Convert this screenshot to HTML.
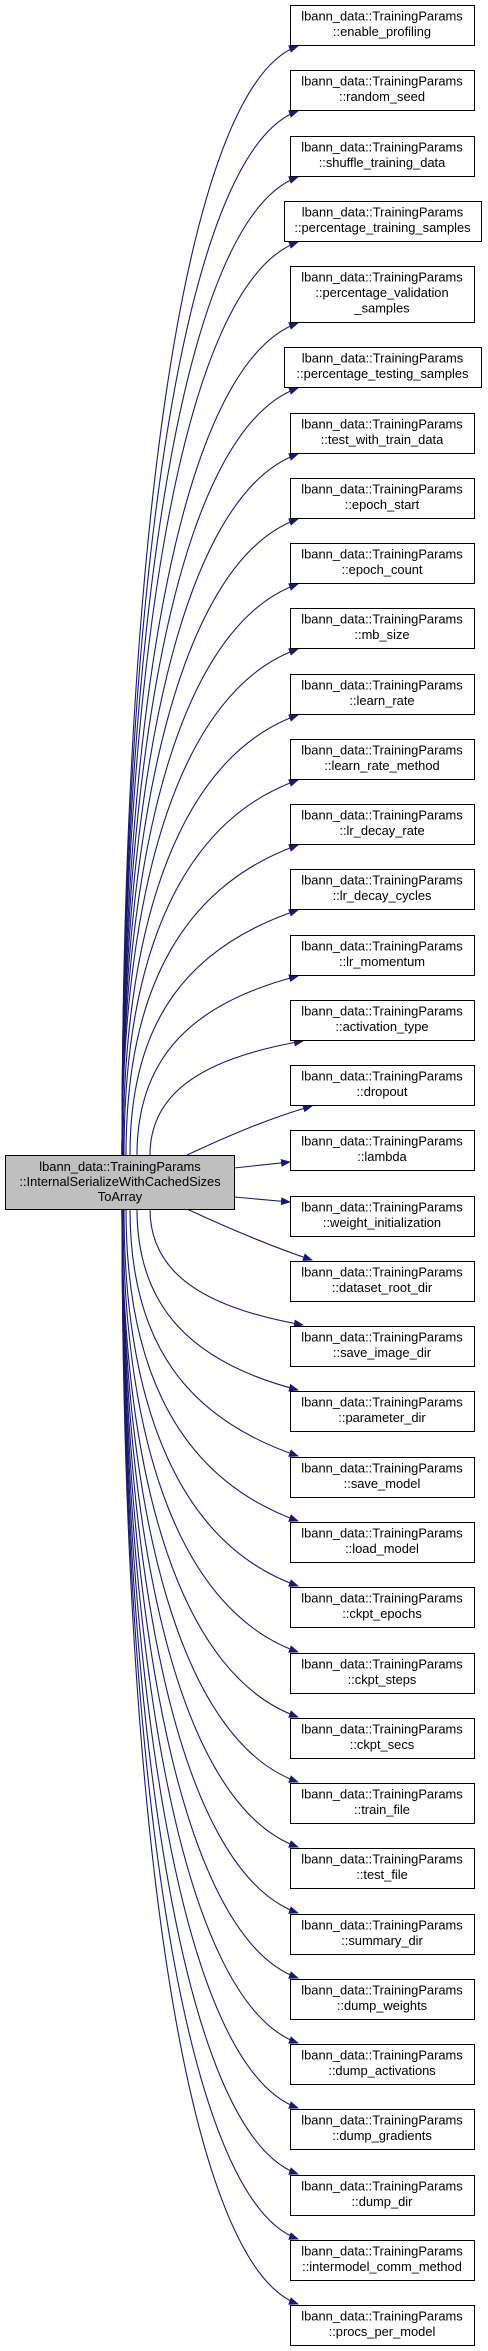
<!DOCTYPE html>
<html><head><meta charset="utf-8"><style>
html,body{margin:0;padding:0;background:#fff;}
svg{display:block;}
text{font-family:"Liberation Sans",sans-serif;font-size:12.9px;fill:#000;}
</style></head><body>
<svg id="g" width="488" height="2351" viewBox="0 0 488 2351" xmlns="http://www.w3.org/2000/svg">
<defs><marker id="a" markerWidth="10" markerHeight="8" refX="9" refY="4" orient="auto" markerUnits="userSpaceOnUse"><path d="M0,0 L10,4 L0,8 Z" fill="#191970"/></marker></defs>
<g id="edges" fill="none" stroke="#191970" stroke-width="1.1"></g>
<rect x="5.5" y="1155.5" width="229" height="54" fill="#bfbfbf" stroke="#000"/>
<text x="120" y="1171" text-anchor="middle">lbann_data::TrainingParams</text>
<text x="120" y="1186" text-anchor="middle">::InternalSerializeWithCachedSizes</text>
<text x="120" y="1201" text-anchor="middle">ToArray</text>
<g id="nodes"></g>
</svg>
<script>
(function(){
var names=[["::enable_profiling"],["::random_seed"],["::shuffle_training_data"],["::percentage_training_samples"],["::percentage_validation","_samples"],["::percentage_testing_samples"],["::test_with_train_data"],["::epoch_start"],["::epoch_count"],["::mb_size"],["::learn_rate"],["::learn_rate_method"],["::lr_decay_rate"],["::lr_decay_cycles"],["::lr_momentum"],["::activation_type"],["::dropout"],["::lambda"],["::weight_initialization"],["::dataset_root_dir"],["::save_image_dir"],["::parameter_dir"],["::save_model"],["::load_model"],["::ckpt_epochs"],["::ckpt_steps"],["::ckpt_secs"],["::train_file"],["::test_file"],["::summary_dir"],["::dump_weights"],["::dump_activations"],["::dump_gradients"],["::dump_dir"],["::intermodel_comm_method"],["::procs_per_model"]];
var NS="http://www.w3.org/2000/svg",ng=document.getElementById('nodes'),eg=document.getElementById('edges');
function el(t,a,p){var e=document.createElementNS(NS,t);for(var k in a)e.setAttribute(k,a[k]);p.appendChild(e);return e;}
var sx=[187,150,137,130,126,124,123];
for(var i=0;i<names.length;i++){
 var ty=Math.round(5+i*65.26+(i>=5?16:0));
 var h=names[i].length==2?56:40;
 var x0=290,x1=474;
 if(i==3||i==5){x0=284;x1=481;}
 el('rect',{x:x0+.5,y:ty+.5,width:x1-x0,height:h,fill:'#fff',stroke:'#000'},ng);
 var lines=["lbann_data::TrainingParams"].concat(names[i]);
 for(var j=0;j<lines.length;j++){var t=el('text',{x:(x0+x1)/2,y:ty+15.5+j*15.5,'text-anchor':'middle'},ng);t.textContent=lines[j];}
 var d,n,s,ex;
 if(i==17){d="M234,1168 L290,1162";}
 else if(i==18){d="M234,1197 L290,1202";}
 else if(i<17){
  n=17-i;s=n<=sx.length?sx[n-1]:122;var yb=ty+h+1;ex=n==2?303:298;
  d="M"+s+",1155 C"+s+","+(yb+(1155-yb)*0.45)+" "+(s+(ex-s)*0.35)+","+(yb+Math.min(40,(1155-yb)*0.15))+" "+ex+","+yb;
  if(n==1)d="M187,1155 C230,1135 270,1118 312,"+yb;
 } else {
  n=i-18;s=n<=sx.length?sx[n-1]:122;var yt=ty-1;ex=n==2?303:298;
  d="M"+s+",1209 C"+s+","+(yt-(yt-1209)*0.45)+" "+(s+(ex-s)*0.35)+","+(yt-Math.min(40,(yt-1209)*0.15))+" "+ex+","+yt;
  if(n==1)d="M187,1209 C230,1229 270,1246 312,"+yt;
 }
 el('path',{d:d,'marker-end':'url(#a)'},eg);
}
})();
</script>
</body></html>
